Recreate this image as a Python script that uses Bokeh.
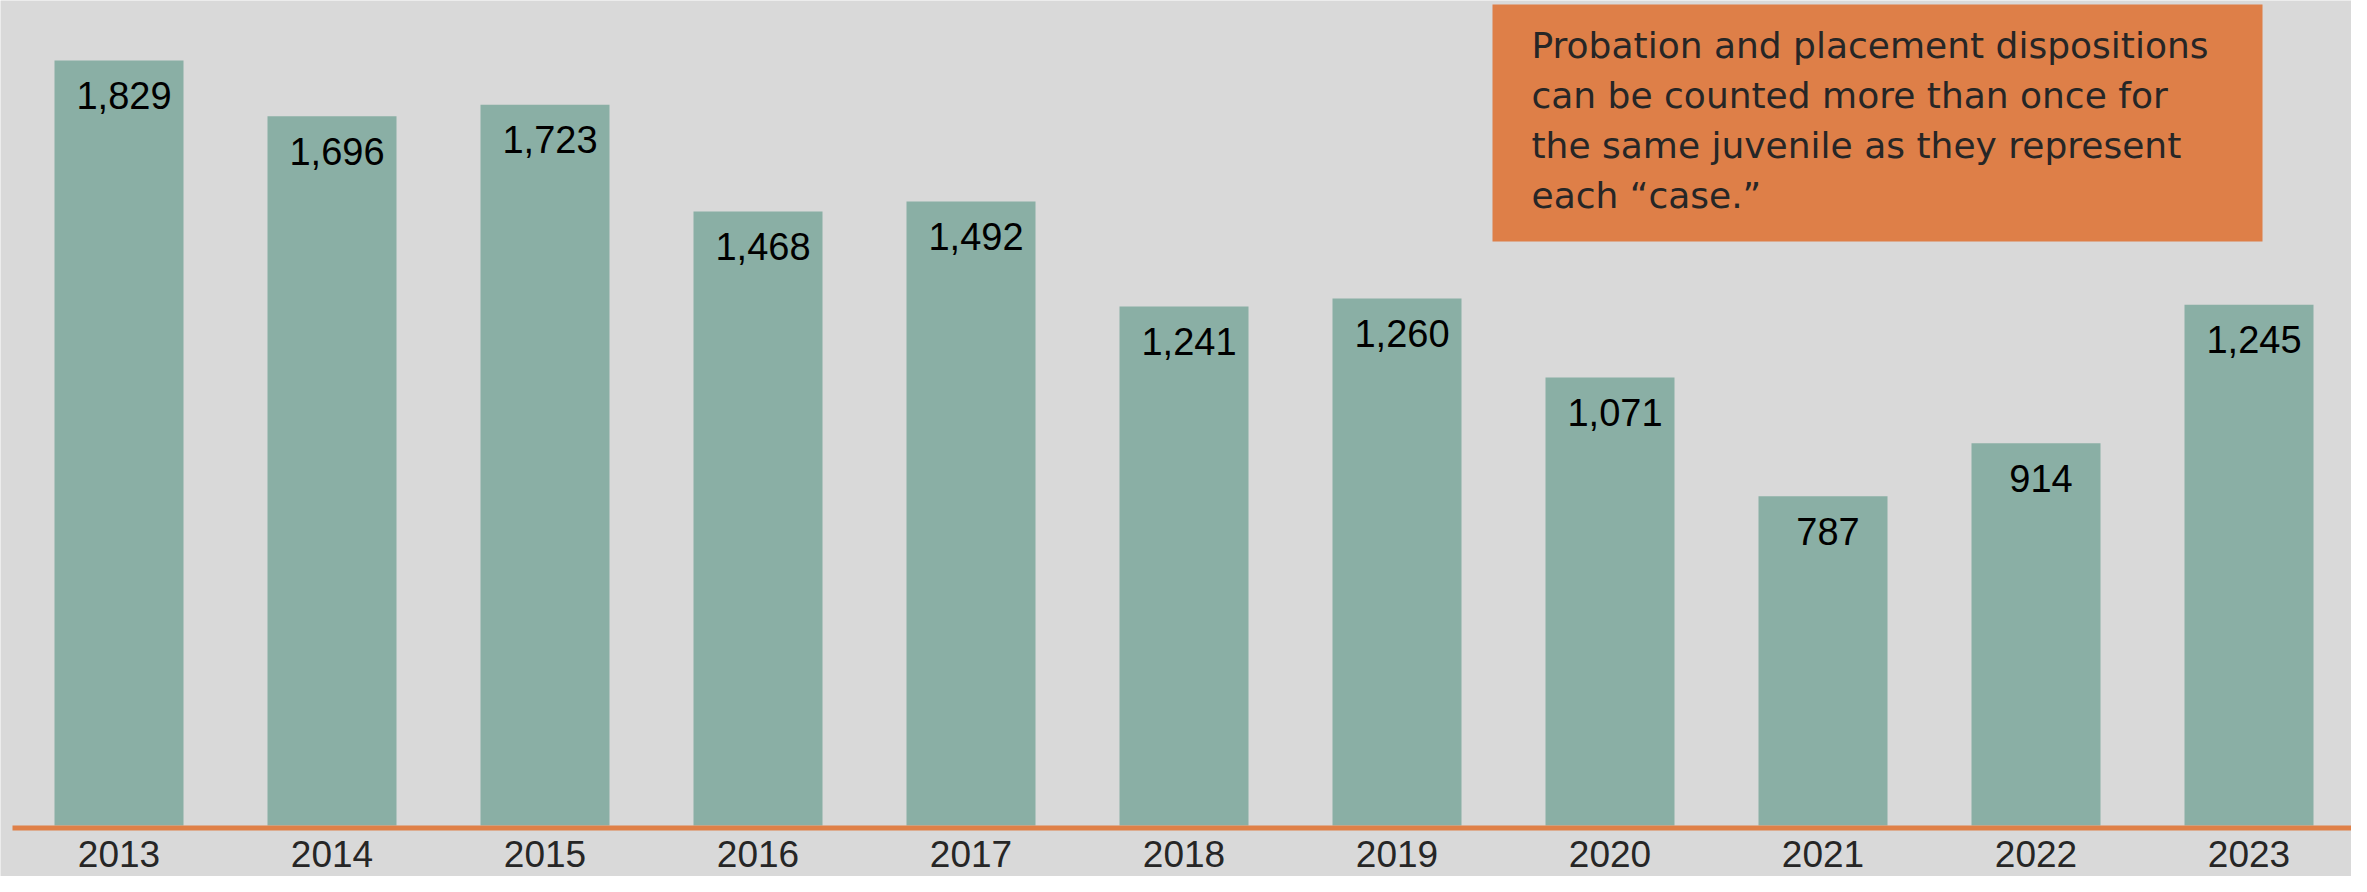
from bokeh.plotting import figure
from bokeh.models import Range1d, ColumnDataSource
from bokeh.core.properties import value
from bokeh.embed import file_html
from bokeh.resources import INLINE

# ---- data ----
years = ["2013", "2014", "2015", "2016", "2017", "2018", "2019", "2020", "2021", "2022", "2023"]
dispositions = [1829, 1696, 1723, 1468, 1492, 1241, 1260, 1071, 787, 914, 1245]
labels = [f"{v:,}" for v in dispositions]
note_lines = [
    "Probation and placement dispositions",
    "can be counted more than once for",
    "the same juvenile as they represent",
    "each \u201ccase.\u201d",
]

# ---- style / layout ----
BG = "#D9D9D9"
BAR = "#8AAFA5"
ORANGE = "#DF8048"
BOX = "#DE7F48"
W, H = 2351, 876
PX_PER_UNIT = 0.41826      # vertical pixels per disposition
BASE_PX = 825              # pixel row of the zero line
PX_PER_X = 213.0           # pixels per year slot
X0_PX = 118.5              # pixel column of the first bar centre

x_start = -X0_PX / PX_PER_X
x_end = x_start + W / PX_PER_X
y_top = BASE_PX / PX_PER_UNIT
y_bot = -(H - BASE_PX) / PX_PER_UNIT


def xd(px):
    return x_start + px / PX_PER_X


def yd(py):
    return (BASE_PX - py) / PX_PER_UNIT


p = figure(
    x_range=Range1d(x_start, x_end),
    y_range=Range1d(y_bot, y_top),
    width=W, height=H,
    output_backend="svg", toolbar_location=None,
    x_axis_location=None, y_axis_location=None,
    min_border=0, outline_line_color=None,
    background_fill_color=BG, border_fill_color=BG,
)
p.grid.visible = False

src = ColumnDataSource(dict(pos=list(range(len(years))), year=years,
                            val=dispositions, lab=labels))

p.vbar(x="pos", top="val", bottom=0, width=129 / PX_PER_X, source=src,
       fill_color=BAR, line_color=None)

# value labels inside bar tops
p.text(x="pos", y="val", text="lab", source=src,
       text_font=value("Liberation Sans"), text_font_size="38px",
       text_color="#000000", text_align="center", text_baseline="alphabetic",
       x_offset=5, y_offset=35)

# baseline
p.segment(x0=[xd(12)], x1=[xd(2355)], y0=[yd(827.5)], y1=[yd(827.5)],
          line_color=ORANGE, line_width=5)

# year labels
p.text(x="pos", y=0, text="year", source=src,
       text_font=value("Liberation Sans"), text_font_size="37px",
       text_color="#262626", text_align="center", text_baseline="alphabetic",
       y_offset=28)

# note box
p.quad(left=[xd(1492)], right=[xd(2262)], top=[yd(4)], bottom=[yd(241)],
       fill_color=BOX, line_color=None)

line_y = [yd(45 + 50 * i) for i in range(len(note_lines))]
p.text(x=[xd(1531)] * len(note_lines), y=line_y, text=note_lines,
       text_font=value("DejaVu Sans"), text_font_size="36px",
       text_color="#262626", text_align="left", text_baseline="alphabetic")

open("out.html", "w").write(file_html(p, INLINE))
